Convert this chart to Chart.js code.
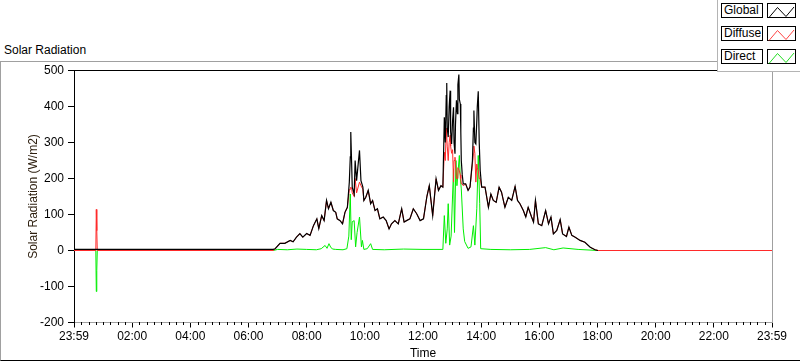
<!DOCTYPE html>
<html>
<head>
<meta charset="utf-8">
<script src="https://cdn.jsdelivr.net/npm/chart.js@4.4.0/dist/chart.umd.min.js"></script>
<style>
  body { margin: 0; background: #fff; font-family: "Liberation Sans", Arial, sans-serif; }
  #wrap { position: relative; width: 800px; height: 361px; overflow: hidden; }
  #frame { position: absolute; left: 0; top: 61px; width: 830px; height: 298px;
           border-top: 1px solid #a0a0a0; border-left: 1px solid #a0a0a0; border-bottom: 1px solid #000; }
  #caption { position: absolute; left: 4px; top: 43px; font-size: 12px; color: #000; }
  #chart { position: absolute; left: 0; top: 0; }
  #legend { position: absolute; left: 717px; top: 0; width: 100px; height: 71px; background: #fff;
            border-left: 1px solid #b4b4b4; border-bottom: 1px solid #b4b4b4; }
  .row { position: absolute; left: 3px; height: 15px; }
  .name { position: absolute; left: 0; top: 0; height: 13px; border: 1px solid #000;
          font-size: 12px; line-height: 13px; padding-left: 2px; width: 38px; }
  .swatch { position: absolute; left: 46px; top: 0; width: 27px; height: 13px; border: 1px solid #000; }
</style>
</head>
<body>
<div id="wrap">
  <div id="frame"></div>
  <div id="caption">Solar Radiation</div>
  <canvas id="chart" width="800" height="361"></canvas>
  <div id="legend"></div>
</div>
<script>
// minutes after midnight, one sample per reading off the plot
const globalTimes = [
  0, 45, 46, 47, 48, 411, 415, 425, 435, 446,
  452, 459, 466, 472, 480, 487, 494, 501, 505, 511,
  516, 521, 525, 530, 535, 540, 543, 549, 554, 559,
  564, 568, 570, 571, 573, 574, 578, 580, 583, 589,
  592, 596, 598, 602, 607, 612, 616, 621, 626, 631,
  638, 644, 650, 655, 662, 669, 676, 681, 686, 693,
  700, 707, 714, 721, 728, 733, 740, 747, 752, 757,
  761, 764, 766, 768, 769, 770, 772, 774, 776, 777,
  779, 781, 783, 784, 786, 787, 789, 791, 792, 794,
  795, 797, 798, 799, 801, 803, 808, 813, 817, 822,
  824, 825, 827, 829, 831, 832, 834, 836, 838, 841,
  848, 855, 860, 865, 871, 877, 882, 889, 896, 903,
  910, 915, 920, 927, 932, 937, 944, 948, 952, 958,
  965, 973, 979, 984, 989, 996, 1003, 1008, 1016, 1021,
  1027, 1034, 1044, 1054, 1065, 1075, 1081, 1440
];
const globalValues = [
  3, 3, 3, 3, 3, 3, 5, 20, 20, 28,
  24, 37, 47, 37, 47, 42, 69, 88, 61, 97,
  83, 139, 116, 134, 111, 106, 88, 83, 74, 106,
  120, 190, 260, 329, 230, 176, 157, 250, 194, 278,
  194, 176, 139, 148, 167, 130, 139, 111, 116, 88,
  93, 83, 60, 74, 83, 74, 116, 79, 83, 88,
  116, 102, 83, 88, 150, 180, 97, 199, 167, 180,
  176, 370, 300, 430, 465, 340, 315, 400, 444, 330,
  296, 360, 398, 300, 269, 350, 417, 380, 460, 489,
  420, 407, 330, 250, 210, 185, 185, 167, 176, 250,
  340, 389, 300, 296, 360, 400, 442, 300, 222, 176,
  176, 120, 157, 139, 134, 176, 162, 120, 148, 139,
  178, 139, 130, 111, 93, 120, 93, 79, 139, 74,
  69, 111, 74, 93, 46, 56, 86, 46, 39, 65,
  42, 37, 28, 23, 9, 2, 0, null
];
const diffuseValues = [
  0, 0, 114, 55, 0, 0, 5, 20, 20, 28,
  24, 37, 47, 37, 47, 42, 69, 88, 61, 97,
  83, 139, 116, 134, 111, 106, 88, 83, 74, 106,
  120, 170, 170, 176, 170, 160, 150, 200, 160, 190,
  180, 170, 139, 148, 167, 130, 139, 111, 116, 88,
  93, 83, 60, 74, 83, 74, 116, 79, 83, 88,
  116, 102, 83, 88, 150, 180, 97, 199, 167, 180,
  176, 273, 250, 340, 340, 290, 250, 300, 320, 290,
  270, 280, 190, 250, 259, 240, 200, 200, 230, 225,
  222, 210, 200, 185, 185, 180, 185, 167, 176, 240,
  270, 290, 270, 190, 240, 230, 222, 200, 200, 176,
  176, 120, 157, 139, 134, 176, 162, 120, 148, 139,
  178, 139, 130, 111, 93, 120, 93, 79, 139, 74,
  69, 111, 74, 93, 46, 56, 86, 46, 39, 65,
  42, 37, 28, 23, 9, 2, 0, 0
];
const directTimes = [
  0, 45, 46, 47, 48, 411, 420, 440, 460, 480,
  500, 510, 518, 522, 526, 530, 534, 540, 555, 563,
  567, 570, 572, 574, 578, 581, 584, 589, 593, 595,
  598, 605, 612, 616, 640, 680, 720, 761, 764, 767,
  770, 772, 775, 778, 783, 785, 788, 790, 795, 797,
  799, 803, 806, 813, 819, 824, 827, 831, 834, 837,
  839, 860, 900, 940, 973, 990, 1009, 1040, 1081, 1440
];
const directValues = [
  0, 0, -114, -55, 0, 0, 3, 2, 4, 3,
  2, 5, 14, 6, 19, 8, 4, 3, 2, 5,
  40, 157, 30, 80, 83, 10, 50, 93, 10, 28,
  3, 5, 19, 3, 2, 4, 3, 3, 97, 20,
  60, 130, 15, 40, 227, 50, 250, 180, 264, 200,
  171, 60, 25, 6, 10, 69, 15, 116, 264, 130,
  5, 3, 2, 3, 8, 2, 7, 3, 0, 0
];

const seriesNames = ['Global', 'Diffuse', 'Direct'];
const seriesColors = ['#000000', '#ff2a2a', '#00ee00'];
const swatchColors = ['#000000', '#ff4444', '#22dd22'];
const yTicks = [-200, -100, 0, 100, 200, 300, 400, 500];

const font = { family: '"Liberation Sans", Arial, sans-serif', size: 12 };

function pts(times, values) {
  return times.map((t, i) => ({ x: t, y: values[i] }));
}
function timeLabel(v) {
  if (v === 0 || v === 1440) return '23:59';
  const h = Math.round(v / 60);
  return (h < 10 ? '0' : '') + h + ':00';
}

// top/right frame of the plot and the small 15 minute ticks
const framePlugin = {
  id: 'frame',
  afterDraw(chart) {
    const { ctx, chartArea: a } = chart;
    const x = chart.scales.x;
    const top = Math.floor(a.top) + 0.5;
    const bottom = Math.floor(a.bottom);
    ctx.save();
    ctx.lineWidth = 1;
    ctx.strokeStyle = '#000';
    ctx.beginPath();
    ctx.moveTo(a.left, top);
    ctx.lineTo(a.right, top);
    ctx.stroke();
    ctx.strokeStyle = '#a0a0a0';
    ctx.beginPath();
    ctx.moveTo(Math.round(a.right) + 0.5, top + 0.5);
    ctx.lineTo(Math.round(a.right) + 0.5, bottom);
    ctx.stroke();
    ctx.strokeStyle = '#000';
    ctx.beginPath();
    for (let m = 15; m < 1440; m += 15) {
      if (m % 120 === 0) continue;
      const px = Math.round(x.getPixelForValue(m)) + 0.5;
      ctx.moveTo(px, bottom);
      ctx.lineTo(px, bottom + 3);
    }
    ctx.stroke();
    ctx.restore();
  }
};

new Chart(document.getElementById('chart'), {
  type: 'line',
  data: {
    datasets: [
      { label: 'Global', data: pts(globalTimes, globalValues), borderColor: seriesColors[0], borderWidth: 1.2, order: 1 },
      { label: 'Diffuse', data: pts(globalTimes, diffuseValues), borderColor: seriesColors[1], order: 2 },
      { label: 'Direct', data: pts(directTimes, directValues), borderColor: seriesColors[2], order: 3 }
    ]
  },
  options: {
    responsive: false,
    devicePixelRatio: 1,
    animation: false,
    spanGaps: false,
    elements: { line: { borderWidth: 1, tension: 0 }, point: { radius: 0 } },
    layout: { padding: { top: 70.5, right: 28, bottom: 0, left: 0 } },
    plugins: { legend: { display: false }, tooltip: { enabled: false } },
    scales: {
      x: {
        type: 'linear', min: 0, max: 1440,
        ticks: { stepSize: 120, autoSkip: false, maxRotation: 0, color: '#000', font, padding: 2, callback: timeLabel },
        grid: { drawOnChartArea: false, tickLength: 5, tickColor: '#000' },
        border: { color: '#a0a0a0' },
        title: { display: true, text: 'Time', color: '#000', font, padding: { top: 0, bottom: 0 } },
        afterFit(s) { s.height = 38.5; }
      },
      y: {
        min: -200, max: 500,
        afterBuildTicks(s) { s.ticks = yTicks.map(v => ({ value: v })); },
        ticks: { color: '#000', font, padding: 4 },
        grid: { drawOnChartArea: false, tickLength: 6, tickColor: '#000' },
        border: { color: '#000' },
        title: { display: true, text: 'Solar Radiation (W/m2)', color: '#2e2010', font, padding: { top: 26, bottom: 0 } },
        afterFit(s) { s.width = 74; }
      }
    }
  },
  plugins: [framePlugin]
});

// legend panel in the top right corner
const legend = document.getElementById('legend');
seriesNames.forEach((name, i) => {
  const row = document.createElement('div');
  row.className = 'row';
  row.style.top = (3 + i * 23) + 'px';
  row.innerHTML =
    '<div class="name">' + name + '</div>' +
    '<div class="swatch"><svg width="27" height="13"><polyline fill="none" stroke="' + swatchColors[i] +
    '" stroke-width="1" points="1,12.5 9.5,2.5 18,11.5 26,2"/></svg></div>';
  legend.appendChild(row);
});
</script>
</body>
</html>
